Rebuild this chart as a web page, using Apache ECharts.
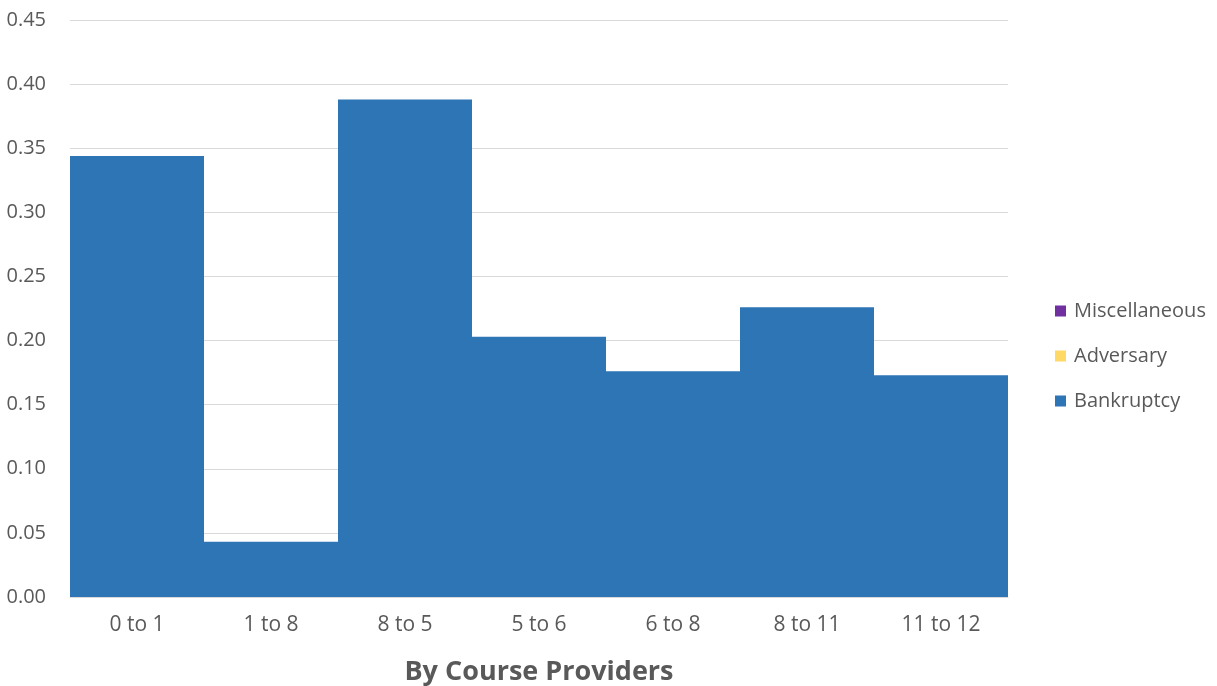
<!DOCTYPE html>
<html>
<head>
<meta charset="utf-8">
<script src="https://cdn.jsdelivr.net/npm/echarts@6/dist/echarts.min.js"></script>
<style>
html,body{margin:0;padding:0;background:#fff;}
#chart{width:1217px;height:686px;}
</style>
</head>
<body>
<div id="chart"></div>
<script>
var categories = ['0 to 1', '1 to 8', '8 to 5', '5 to 6', '6 to 8', '8 to 11', '11 to 12'];
var bankruptcy = [0.344, 0.043, 0.388, 0.203, 0.176, 0.226, 0.173];
var adversary = [0, 0, 0, 0, 0, 0, 0];
var miscellaneous = [0, 0, 0, 0, 0, 0, 0];
var legendNames = ['Miscellaneous', 'Adversary', 'Bankruptcy'];
var axisTitle = 'By Course Providers';

var FONT = '"Open Sans", "Noto Sans", sans-serif';
var TXT = '#595959';
var chart = echarts.init(document.getElementById('chart'));
chart.setOption({
  animation: false,
  backgroundColor: '#fff',
  textStyle: { fontFamily: FONT },
  grid: { left: 70, right: 209, top: 20, bottom: 89, containLabel: false, outerBoundsMode: 'none' },
  legend: {
    orient: 'vertical',
    left: 1050,
    top: 294,
    data: legendNames,
    icon: 'rect',
    itemWidth: 11,
    itemHeight: 11,
    itemGap: 21,
    textStyle: { fontFamily: FONT, fontSize: 20, color: TXT, lineHeight: 24, padding: [0, 0, 0, 3] }
  },
  xAxis: {
    type: 'category',
    data: categories,
    name: axisTitle,
    nameLocation: 'middle',
    nameGap: 62,
    nameTextStyle: { fontFamily: FONT, fontSize: 27, fontWeight: 'bold', color: TXT },
    axisLine: { show: true, lineStyle: { color: '#d9d9d9', width: 1 } },
    axisTick: { show: false },
    axisLabel: { color: TXT, fontSize: 21, margin: 18, fontFamily: FONT }
  },
  yAxis: {
    type: 'value',
    min: 0,
    max: 0.45,
    interval: 0.05,
    axisLine: { show: false },
    axisTick: { show: false },
    splitLine: { lineStyle: { color: '#d9d9d9', width: 1 } },
    axisLabel: {
      color: TXT, fontSize: 20, margin: 24, fontFamily: FONT,
      formatter: function (v) { return v.toFixed(2); }
    }
  },
  series: [
    { name: 'Bankruptcy', type: 'bar', stack: 'total', data: bankruptcy, barCategoryGap: '0%', itemStyle: { color: '#2e75b6' } },
    { name: 'Adversary', type: 'bar', stack: 'total', data: adversary, barCategoryGap: '0%', itemStyle: { color: '#ffd966' } },
    { name: 'Miscellaneous', type: 'bar', stack: 'total', data: miscellaneous, barCategoryGap: '0%', itemStyle: { color: '#7030a0' } }
  ]
});
</script>
</body>
</html>
